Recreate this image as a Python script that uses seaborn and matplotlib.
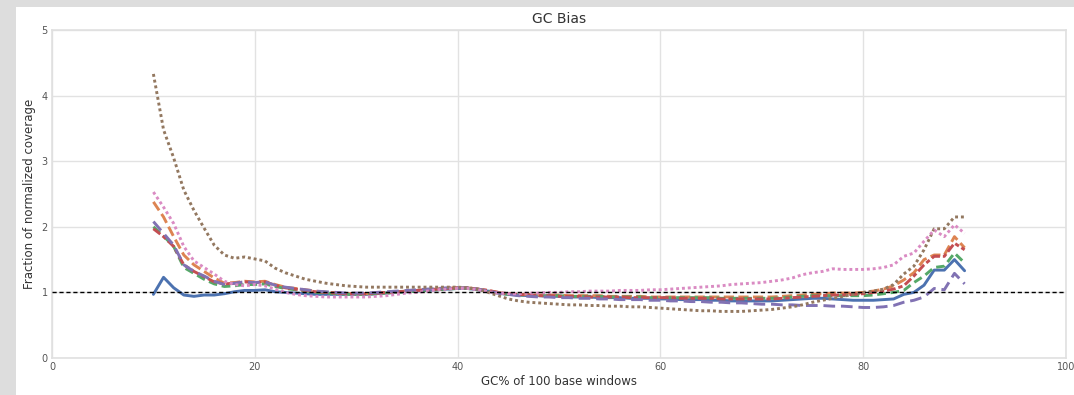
import matplotlib
matplotlib.use("Agg")
import matplotlib.pyplot as plt
from matplotlib.patches import Rectangle
import seaborn as sns
import pandas as pd

gc = list(range(10, 91))

s1 = [0.97, 1.23, 1.07, 0.96, 0.94, 0.96, 0.96, 0.98, 1.01, 1.03,
      1.03, 1.04, 1.01, 1.00, 0.99, 0.98, 0.97, 0.97, 0.97, 0.97,
      0.97, 0.97, 0.98, 0.99, 1.00, 1.01, 1.02, 1.03, 1.04, 1.05,
      1.06, 1.06, 1.04, 1.02, 0.99, 0.97, 0.96, 0.95, 0.95, 0.94,
      0.94, 0.93, 0.93, 0.93, 0.92, 0.92, 0.92, 0.91, 0.91, 0.91,
      0.90, 0.90, 0.89, 0.89, 0.89, 0.88, 0.88, 0.87, 0.87, 0.87,
      0.87, 0.87, 0.88, 0.89, 0.90, 0.91, 0.91, 0.90, 0.89, 0.88,
      0.88, 0.88, 0.89, 0.90, 0.97, 1.00, 1.11, 1.34, 1.34, 1.50, 1.33]

s2 = [2.38, 2.15, 1.85, 1.57, 1.42, 1.32, 1.22, 1.14, 1.15, 1.17,
      1.16, 1.17, 1.12, 1.08, 1.06, 1.04, 1.02, 1.00, 0.99, 0.98,
      0.98, 0.98, 0.99, 1.00, 1.01, 1.02, 1.03, 1.04, 1.05, 1.06,
      1.07, 1.07, 1.05, 1.03, 1.00, 0.98, 0.97, 0.97, 0.96, 0.96,
      0.96, 0.95, 0.95, 0.95, 0.95, 0.94, 0.94, 0.94, 0.94, 0.93,
      0.93, 0.93, 0.93, 0.93, 0.93, 0.93, 0.93, 0.93, 0.93, 0.93,
      0.93, 0.93, 0.94, 0.95, 0.96, 0.97, 0.98, 0.99, 0.99, 0.99,
      1.00, 1.02, 1.05, 1.10, 1.19, 1.30, 1.50, 1.57, 1.57, 1.85, 1.68]

s3 = [2.00, 1.86, 1.70, 1.38, 1.29, 1.20, 1.13, 1.09, 1.10, 1.12,
      1.12, 1.13, 1.09, 1.06, 1.04, 1.02, 1.00, 0.99, 0.98, 0.97,
      0.97, 0.97, 0.98, 0.99, 1.00, 1.01, 1.02, 1.03, 1.04, 1.05,
      1.06, 1.06, 1.04, 1.02, 0.99, 0.97, 0.96, 0.96, 0.95, 0.95,
      0.95, 0.94, 0.94, 0.94, 0.94, 0.93, 0.93, 0.93, 0.93, 0.92,
      0.92, 0.92, 0.92, 0.92, 0.92, 0.92, 0.91, 0.91, 0.91, 0.91,
      0.91, 0.91, 0.92, 0.93, 0.94, 0.95, 0.95, 0.95, 0.95, 0.95,
      0.95, 0.96, 0.98, 1.00, 1.03, 1.15, 1.25, 1.38, 1.40, 1.60, 1.45]

s4 = [1.97, 1.85, 1.70, 1.42, 1.32, 1.24, 1.16, 1.13, 1.14, 1.16,
      1.15, 1.16, 1.11, 1.07, 1.05, 1.03, 1.01, 1.00, 0.99, 0.98,
      0.98, 0.98, 0.99, 1.00, 1.01, 1.02, 1.03, 1.04, 1.05, 1.06,
      1.07, 1.07, 1.05, 1.03, 1.00, 0.98, 0.97, 0.96, 0.95, 0.95,
      0.94, 0.94, 0.94, 0.93, 0.93, 0.93, 0.93, 0.92, 0.92, 0.92,
      0.92, 0.92, 0.91, 0.91, 0.91, 0.91, 0.90, 0.90, 0.90, 0.90,
      0.90, 0.90, 0.91, 0.92, 0.93, 0.94, 0.95, 0.96, 0.96, 0.97,
      0.98, 1.00, 1.02, 1.05, 1.10, 1.25, 1.42, 1.55, 1.55, 1.75, 1.65]

s5 = [2.08, 1.90, 1.72, 1.42, 1.32, 1.25, 1.17, 1.12, 1.14, 1.16,
      1.15, 1.16, 1.11, 1.08, 1.06, 1.04, 1.02, 1.01, 1.00, 0.99,
      0.99, 0.99, 1.00, 1.01, 1.02, 1.03, 1.04, 1.05, 1.06, 1.07,
      1.07, 1.07, 1.05, 1.02, 0.99, 0.97, 0.95, 0.94, 0.93, 0.93,
      0.92, 0.92, 0.91, 0.91, 0.90, 0.90, 0.89, 0.89, 0.89, 0.88,
      0.88, 0.87, 0.87, 0.86, 0.86, 0.85, 0.85, 0.84, 0.84, 0.83,
      0.82, 0.82, 0.81, 0.81, 0.80, 0.80, 0.80, 0.79, 0.79, 0.78,
      0.77, 0.77, 0.78, 0.80, 0.85, 0.88, 0.93, 1.06, 1.04, 1.29, 1.13]

s6 = [4.33, 3.48, 3.05, 2.56, 2.25, 1.98, 1.72, 1.57, 1.52, 1.54,
      1.51, 1.48, 1.37, 1.30, 1.25, 1.20, 1.17, 1.14, 1.12, 1.10,
      1.09, 1.08, 1.08, 1.08, 1.08, 1.08, 1.08, 1.08, 1.08, 1.08,
      1.08, 1.07, 1.05, 1.00, 0.95, 0.90, 0.87, 0.85, 0.84, 0.83,
      0.82, 0.81, 0.81, 0.80, 0.80, 0.79, 0.79, 0.78, 0.78, 0.77,
      0.76, 0.75, 0.74, 0.73, 0.72, 0.72, 0.71, 0.71, 0.71, 0.72,
      0.73, 0.74, 0.76, 0.78, 0.81, 0.85, 0.88, 0.91, 0.94, 0.97,
      1.00, 1.02, 1.05, 1.12, 1.28, 1.40, 1.65, 1.97, 1.97, 2.15, 2.15]

s7 = [2.53, 2.30, 2.05, 1.70, 1.48, 1.38, 1.28, 1.17, 1.12, 1.10,
      1.12, 1.10, 1.05, 1.00, 0.97, 0.95, 0.94, 0.93, 0.93, 0.93,
      0.93, 0.93, 0.94, 0.95, 0.97, 0.99, 1.00, 1.02, 1.04, 1.05,
      1.06, 1.06, 1.04, 1.01, 0.99, 0.98, 0.98, 0.99, 0.99, 1.00,
      1.00, 1.01, 1.01, 1.02, 1.02, 1.02, 1.03, 1.03, 1.03, 1.04,
      1.04, 1.05, 1.06, 1.07, 1.08, 1.09, 1.10, 1.12, 1.13, 1.14,
      1.15, 1.17, 1.19, 1.22, 1.27, 1.30, 1.32, 1.36, 1.35, 1.35,
      1.35, 1.36, 1.38, 1.42, 1.55, 1.60, 1.78, 1.95, 1.85, 2.03, 1.90]

names = ["S1", "S2", "S3", "S4", "S5", "S6", "S7"]
series = [s1, s2, s3, s4, s5, s6, s7]

rows = []
for n, vals in zip(names, series):
    for x, v in zip(gc, vals):
        rows.append({"gc": x, "cov": v, "sample": n})
df = pd.DataFrame(rows)

sns.set_theme(style="whitegrid")
plt.rcParams["font.family"] = ["DejaVu Sans"]

fig = plt.figure(figsize=(10.74, 3.95), dpi=100)
fig.patch.set_facecolor("#dddddd")
fig.add_artist(Rectangle((16 / 1074, 0), 1 - 16 / 1074, 1 - 7 / 395,
                         transform=fig.transFigure, facecolor="white",
                         edgecolor="none", zorder=0))
ax = fig.add_axes([52 / 1074, 1 - 358 / 395, (1066 - 52) / 1074, (358 - 30) / 395])

pal = sns.color_palette("deep", 7)
dashes = {"S1": "", "S2": (3.5, 1.5), "S3": (3.0, 1.6), "S4": (3.0, 1.0, 1.5, 1.0),
          "S5": (4.0, 2.0), "S6": (1.0, 1.0), "S7": (1.0, 1.0)}
sns.lineplot(data=df, x="gc", y="cov", hue="sample", style="sample",
             palette=pal, dashes=dashes, linewidth=2.1, legend=False, ax=ax)

ax.axhline(1.0, color="black", linestyle=(0, (3, 2)), linewidth=1.0, zorder=5)

ax.set_xlim(0, 100)
ax.set_ylim(0, 5)
ax.set_xticks([0, 20, 40, 60, 80, 100])
ax.set_yticks([0, 1, 2, 3, 4, 5])
ax.grid(True, color="#e2e2e2", linewidth=1.0)
for sp in ax.spines.values():
    sp.set_color("#e0e0e0")
    sp.set_linewidth(1.2)
ax.tick_params(axis="both", labelsize=7, colors="#555555", pad=3, length=0)
ax.set_title("GC Bias", fontsize=10, color="#333333", pad=5)
ax.set_xlabel("GC% of 100 base windows", fontsize=8.5, color="#333333", labelpad=2)
ax.set_ylabel("Fraction of normalized coverage", fontsize=8.5, color="#333333", labelpad=4)

fig.savefig("out.png", dpi=100, facecolor=fig.get_facecolor())
